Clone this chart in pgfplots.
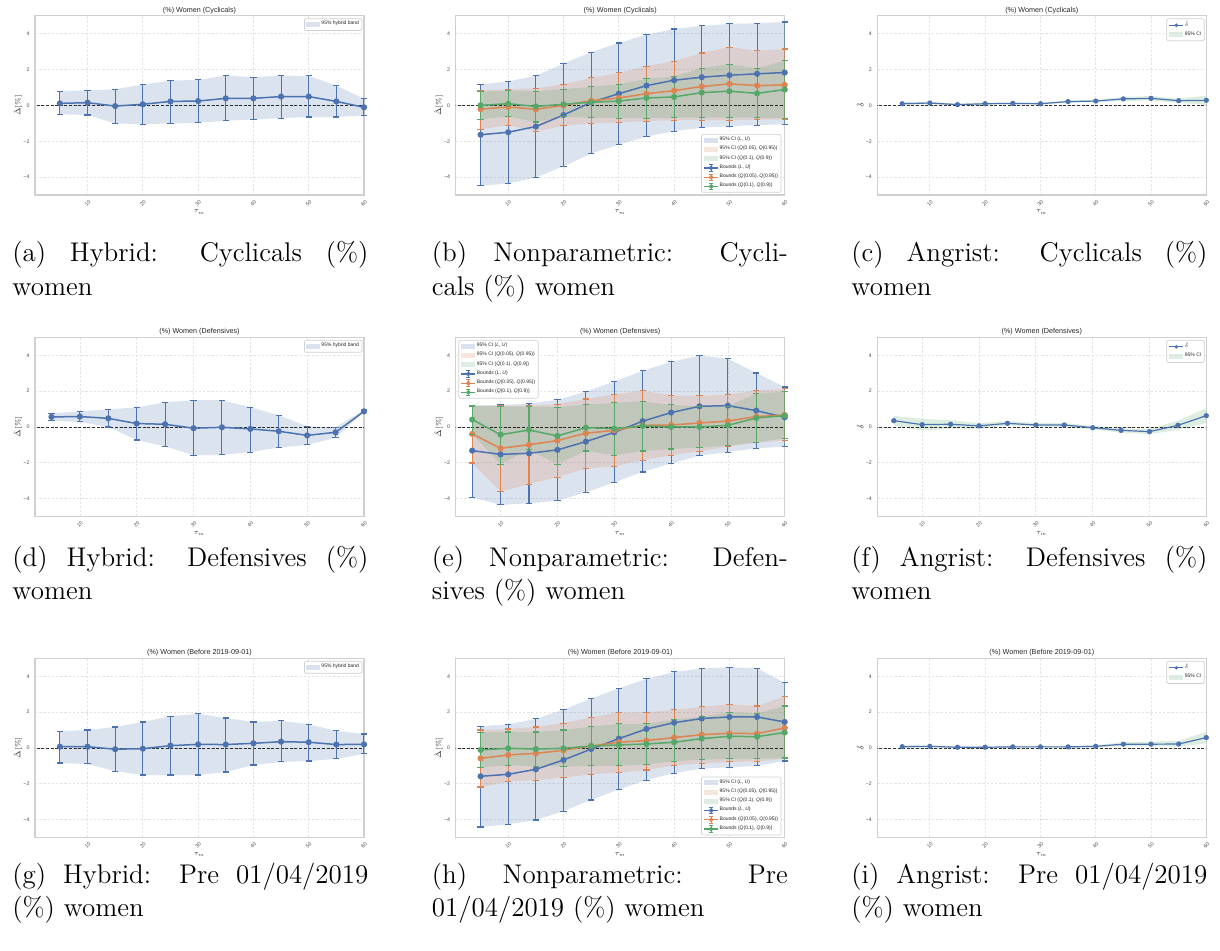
\RequirePackage{fix-cm}
\documentclass[border=0pt]{standalone}
\usepackage{fontspec}
\usepackage{pgfplots}
\usepackage{pgfplotstable}
\pgfplotsset{compat=1.18}
\usepgfplotslibrary{fillbetween}
\newfontfamily\axfont{Liberation Sans}

\definecolor{cblue}{HTML}{4C72B0}
\definecolor{corange}{HTML}{DD8452}
\definecolor{cgreen}{HTML}{55A868}
\definecolor{axgray}{HTML}{D0D0D0}
\definecolor{gridgray}{HTML}{E4E4E4}
\definecolor{txt}{HTML}{262626}
\definecolor{tickc}{HTML}{4D4D4D}

% ---------------- data: x, estimate, lower, upper ----------------
% Cyclicals
\pgfplotstableread{
x y lo hi
5 0.11 -0.50 0.79
10 0.15 -0.54 0.84
15 -0.04 -1.01 0.90
20 0.06 -1.05 1.16
25 0.22 -1.01 1.38
30 0.24 -0.97 1.42
35 0.39 -0.86 1.66
40 0.39 -0.79 1.57
45 0.49 -0.71 1.66
50 0.49 -0.65 1.64
55 0.22 -0.65 1.10
60 -0.11 -0.56 0.36
}\hybCyc
\pgfplotstableread{
x y lo hi
5 -1.64 -4.49 1.18
10 -1.50 -4.36 1.33
15 -1.18 -4.02 1.66
20 -0.54 -3.40 2.32
25 0.17 -2.69 2.97
30 0.65 -2.19 3.48
35 1.10 -1.74 3.94
40 1.40 -1.44 4.26
45 1.57 -1.25 4.43
50 1.68 -1.16 4.54
55 1.76 -1.10 4.58
60 1.83 -1.05 4.65
}\npCycLU
\pgfplotstableread{
x y lo hi
5 -0.21 -1.33 0.84
10 -0.09 -1.10 0.90
15 -0.22 -1.44 0.95
20 0.00 -1.14 1.18
25 0.26 -1.01 1.53
30 0.41 -0.95 1.81
35 0.65 -0.88 2.19
40 0.82 -0.82 2.47
45 1.05 -0.82 2.92
50 1.20 -0.82 3.25
55 1.10 -0.80 3.05
60 1.14 -0.80 3.14
}\npCycQa
\pgfplotstableread{
x y lo hi
5 0.00 -0.77 0.77
10 0.09 -0.62 0.82
15 -0.06 -0.93 0.79
20 0.06 -0.64 0.90
25 0.17 -0.69 1.03
30 0.24 -0.71 1.18
35 0.41 -0.71 1.48
40 0.47 -0.69 1.61
45 0.71 -0.69 2.07
50 0.79 -0.69 2.30
55 0.67 -0.69 2.07
60 0.88 -0.71 2.49
}\npCycQb
\pgfplotstableread{
x y lo hi
5 0.09 0.02 0.17
10 0.13 0.06 0.20
15 0.04 -0.01 0.10
20 0.09 0.04 0.15
25 0.11 0.06 0.16
30 0.09 0.04 0.15
35 0.21 0.15 0.27
40 0.24 0.17 0.31
45 0.36 0.25 0.47
50 0.39 0.26 0.52
55 0.26 0.14 0.38
60 0.28 0.02 0.54
}\angCyc
% Defensives
\pgfplotstableread{
x y lo hi
5 0.56 0.35 0.76
10 0.58 0.28 0.86
15 0.48 0.00 0.99
20 0.19 -0.73 1.08
25 0.15 -1.08 1.38
30 -0.07 -1.58 1.49
35 -0.02 -1.56 1.49
40 -0.11 -1.40 1.10
45 -0.24 -1.15 0.65
50 -0.47 -1.00 0.04
55 -0.30 -0.61 -0.02
60 0.87 0.84 0.95
}\hybDef
\pgfplotstableread{
x y lo hi
5 -1.32 -3.93 1.21
10 -1.53 -4.35 1.23
15 -1.47 -4.26 1.30
20 -1.28 -4.11 1.51
25 -0.82 -3.65 1.97
30 -0.30 -3.09 2.53
35 0.32 -2.51 3.13
40 0.80 -2.03 3.63
45 1.15 -1.60 3.98
50 1.19 -1.40 3.80
55 0.91 -1.19 3.01
60 0.54 -1.10 2.23
}\npDefLU
\pgfplotstableread{
x y lo hi
5 -0.39 -2.01 1.17
10 -1.19 -3.60 1.17
15 -0.99 -3.19 1.19
20 -0.76 -2.80 1.27
25 -0.35 -2.31 1.56
30 -0.19 -2.20 1.82
35 0.09 -1.85 2.01
40 0.11 -1.58 1.77
45 0.22 -1.36 1.75
50 0.33 -1.10 1.79
55 0.58 -0.89 2.05
60 0.67 -0.74 2.12
}\npDefQa
\pgfplotstableread{
x y lo hi
5 0.41 -0.40 1.17
10 -0.43 -2.07 1.15
15 -0.17 -1.27 1.15
20 -0.50 -2.07 1.10
25 -0.04 -1.34 1.25
30 -0.09 -1.57 1.34
35 0.06 -1.34 1.43
40 0.00 -1.23 1.23
45 0.00 -1.14 1.15
50 0.09 -1.04 1.15
55 0.50 -0.86 1.86
60 0.63 -0.63 1.97
}\npDefQb
\pgfplotstableread{
x y lo hi
5 0.35 0.08 0.62
10 0.13 -0.19 0.45
15 0.15 -0.10 0.38
20 0.06 -0.10 0.22
25 0.20 0.09 0.33
30 0.11 0.02 0.22
35 0.11 0.01 0.22
40 -0.04 -0.14 0.06
45 -0.19 -0.32 -0.08
50 -0.26 -0.40 -0.11
55 0.09 -0.17 0.35
60 0.63 0.22 1.05
}\angDef
% Before 2019-09-01
\pgfplotstableread{
x y lo hi
5 0.07 -0.84 0.93
10 0.07 -0.89 1.00
15 -0.07 -1.30 1.17
20 -0.04 -1.51 1.45
25 0.13 -1.51 1.77
30 0.20 -1.51 1.90
35 0.19 -1.34 1.67
40 0.26 -0.95 1.45
45 0.35 -0.78 1.51
50 0.32 -0.73 1.32
55 0.19 -0.61 0.95
60 0.20 -0.33 0.78
}\hybPre
\pgfplotstableread{
x y lo hi
5 -1.58 -4.41 1.21
10 -1.47 -4.26 1.32
15 -1.19 -4.02 1.62
20 -0.67 -3.52 2.14
25 -0.06 -2.90 2.75
30 0.52 -2.31 3.33
35 1.06 -1.79 3.85
40 1.41 -1.40 4.24
45 1.64 -1.15 4.43
50 1.73 -1.08 4.50
55 1.73 -1.00 4.45
60 1.45 -0.73 3.63
}\npPreLU
\pgfplotstableread{
x y lo hi
5 -0.58 -2.18 1.00
10 -0.39 -1.88 1.06
15 -0.30 -1.79 1.17
20 -0.13 -1.66 1.38
25 0.11 -1.47 1.71
30 0.32 -1.38 1.99
35 0.41 -1.23 1.99
40 0.58 -0.97 2.12
45 0.74 -0.86 2.29
50 0.82 -0.78 2.44
55 0.80 -0.76 2.34
60 1.12 -0.61 2.88
}\npPreQa
\pgfplotstableread{
x y lo hi
5 -0.11 -1.08 0.87
10 -0.02 -0.97 0.89
15 -0.06 -1.02 0.89
20 -0.02 -1.04 1.00
25 0.11 -1.00 1.19
30 0.17 -1.00 1.34
35 0.22 -0.91 1.34
40 0.32 -0.74 1.58
45 0.52 -0.65 1.75
50 0.65 -0.61 1.99
55 0.63 -0.61 1.92
60 0.86 -0.56 2.34
}\npPreQb
\pgfplotstableread{
x y lo hi
5 0.07 0.00 0.15
10 0.09 0.04 0.13
15 0.04 0.00 0.08
20 0.04 0.01 0.08
25 0.06 0.02 0.10
30 0.06 0.02 0.10
35 0.06 0.02 0.10
40 0.09 0.03 0.16
45 0.21 0.10 0.32
50 0.21 0.09 0.36
55 0.22 0.08 0.40
60 0.58 0.25 0.90
}\angPre

% ---------------- drawing helpers ----------------
% shaded band between the lo and hi columns
\newcommand{\band}[3]{%
  \addplot[draw=none, forget plot, name path=up#3] table[x=x,y=hi]{#1};
  \addplot[draw=none, forget plot, name path=dn#3] table[x=x,y=lo]{#1};
  \addplot[fill=#2, fill opacity=0.2, draw=none, forget plot] fill between[of=up#3 and dn#3];
}
% estimate with asymmetric error bars and capped ends
\newcommand{\ebars}[2]{%
  \addplot[#2, line width=0.55pt, only marks, mark=-, mark size=1.55pt,
    mark options={solid, line width=0.55pt}, forget plot] table[x=x,y=hi]{#1};
  \addplot[#2, line width=0.55pt, only marks, mark=-, mark size=1.55pt,
    mark options={solid, line width=0.55pt}, forget plot] table[x=x,y=lo]{#1};
  \addplot[#2, line width=0.75pt, mark=*, mark size=1.15pt, forget plot,
    error bars/.cd, y dir=both, y explicit, error mark=none,
    error bar style={#2, line width=0.55pt}]
    table[x=x, y=y, y error plus expr=\thisrow{hi}-\thisrow{y},
          y error minus expr=\thisrow{y}-\thisrow{lo}]{#1};
}
\newcommand{\angline}[1]{%
  \addplot[cblue, line width=0.6pt, mark=*, mark size=1pt, forget plot] table[x=x,y=y]{#1};
}
\newcommand{\zeroline}{%
  \addplot[black, opacity=0.8, line width=0.45pt, dash pattern=on 1.5pt off 0.8pt, forget plot]
    coordinates {(0,0) (61,0)};
}
% legend images
\newcommand{\patchleg}[1]{\addlegendimage{legend image code/.code={%
  \fill[#1, fill opacity=0.2, draw=none, sharp corners] (0pt,-1.25pt) rectangle (7pt,1.25pt);}}}
\newcommand{\ebleg}[1]{\addlegendimage{legend image code/.code={%
  \draw[#1, line width=0.6pt, sharp corners] (0pt,0pt) -- (7pt,0pt);
  \draw[#1, line width=0.45pt, sharp corners] (3.5pt,-1.6pt) -- (3.5pt,1.6pt)
     (2.5pt,1.6pt) -- (4.5pt,1.6pt) (2.5pt,-1.6pt) -- (4.5pt,-1.6pt);
  \fill[#1, fill opacity=1, draw=none] (3.5pt,0pt) circle (1pt);}}}
\newcommand{\lineleg}[1]{\addlegendimage{legend image code/.code={%
  \draw[#1, line width=0.55pt, sharp corners] (0pt,0pt) -- (7pt,0pt);
  \fill[#1, fill opacity=1, draw=none] (3.5pt,0pt) circle (0.95pt);}}}

% hybrid panel content
\newcommand{\hybrid}[2]{%
  \band{#1}{cblue}{h#2}
  \zeroline
  \ebars{#1}{cblue}
  \patchleg{cblue}\addlegendentry{95\% hybrid band}
}
% nonparametric panel content
\newcommand{\nonpar}[4]{%
  \band{#1}{cblue}{a#4}
  \band{#2}{corange}{b#4}
  \band{#3}{cgreen}{c#4}
  \zeroline
  \ebars{#1}{cblue}
  \ebars{#2}{corange}
  \ebars{#3}{cgreen}
  \patchleg{cblue}\addlegendentry{95\% CI (\textit{L}, \textit{U})}
  \patchleg{corange}\addlegendentry{95\% CI (\textit{Q}(0.05), \textit{Q}(0.95))}
  \patchleg{cgreen}\addlegendentry{95\% CI (\textit{Q}(0.1), \textit{Q}(0.9))}
  \ebleg{cblue}\addlegendentry{Bounds (\textit{L}, \textit{U})}
  \ebleg{corange}\addlegendentry{Bounds (\textit{Q}(0.05), \textit{Q}(0.95))}
  \ebleg{cgreen}\addlegendentry{Bounds (\textit{Q}(0.1), \textit{Q}(0.9))}
}
% Angrist panel content
\newcommand{\angrist}[2]{%
  \band{#1}{cgreen}{g#2}
  \zeroline
  \angline{#1}
  \lineleg{cblue}\addlegendentry{$\hat{\delta}$}
  \patchleg{cgreen}\addlegendentry{95\% CI}
}

\pgfplotsset{
  panel/.style={
    scale only axis, width=164.5pt, height=89.65pt, anchor=north west,
    ymin=-5, ymax=5, xmax=60,
    xtick={10,20,30,40,50,60}, xticklabels={10,20,30,40,50,60},
    ytick={-4,-2,0,2,4}, yticklabels={−4,−2,0,2,4},
    grid=major,
    major grid style={gridgray, dash pattern=on 1.2pt off 0.9pt, line width=0.35pt},
    axis line style={axgray, line width=0.65pt},
    major tick length=0pt, tick style={draw=none},
    ticklabel style={font=\axfont\fontsize{2.6}{3}\selectfont, text=tickc},
    yticklabel style={inner sep=0pt, xshift=-2.6pt},
    xticklabel style={inner sep=0pt, anchor=center, yshift=-4pt, rotate=45},
    every axis title/.style={at={(0.5,1)}, anchor=south, yshift=0.9pt, inner sep=0pt,
      font=\axfont\fontsize{3.6}{4.2}\selectfont, text=txt},
    xlabel={$\tau_m$},
    every axis x label/.style={at={(axis description cs:0.5,-0.095)}, anchor=center,
      font=\fontsize{3.3}{3.8}\selectfont, text=txt},
    every axis y label/.style={at={(axis description cs:-0.052,0.5)}, anchor=center,
      rotate=90, font=\fontsize{3.5}{4}\selectfont, text=txt},
    legend cell align=left,
    legend style={font=\axfont\fontsize{2.5}{3}\selectfont, text=txt,
      draw=axgray, line width=0.35pt, rounded corners=0.7pt,
      fill=white, fill opacity=0.8, text opacity=1, draw opacity=1,
      inner xsep=1pt, inner ysep=0.8pt, row sep=0.3pt,
      nodes={inner sep=0.5pt}},
  },
  legNE/.style={legend style={at={(0.995,0.985)}, anchor=north east}},
  legSE/.style={legend style={at={(0.99,0.013)}, anchor=south east}},
  legNW/.style={legend style={at={(0.008,0.985)}, anchor=north west}},
}

\newcommand{\capfont}{\fontsize{13.5}{16.65}\selectfont}
% two-line justified sub-caption: left x, first baseline y, line 1, line 2
\newcommand{\subcap}[4]{%
  \node[anchor=base west, inner sep=0pt, font=\capfont] at (#1,#2) {\makebox[178pt][s]{#3}};
  \node[anchor=base west, inner sep=0pt, font=\capfont] at (#1,#2-16.65pt) {#4};
}

\begin{document}
\begin{tikzpicture}

% ---------- row 1: Cyclicals ----------
\begin{axis}[panel, legNE, at={(17.5pt,467.15pt)}, xmin=0.5,
  title={(\%) Women (Cyclicals)}, ylabel={$\hat{\Delta}[\%]$}]
  \hybrid{\hybCyc}{1}
\end{axis}
\begin{axis}[panel, legSE, at={(227.85pt,467.15pt)}, xmin=0.5,
  title={(\%) Women (Cyclicals)}, ylabel={$\hat{\Delta}[\%]$}]
  \nonpar{\npCycLU}{\npCycQa}{\npCycQb}{1}
\end{axis}
\begin{axis}[panel, legNE, at={(438.65pt,467.15pt)}, xmin=0.5,
  title={(\%) Women (Cyclicals)}, ylabel={$\hat{\delta}$}]
  \angrist{\angCyc}{1}
\end{axis}

% ---------- row 2: Defensives ----------
\begin{axis}[panel, legNE, at={(17.5pt,306.35pt)}, xmin=2.1,
  title={(\%) Women (Defensives)}, ylabel={$\hat{\Delta}[\%]$}]
  \hybrid{\hybDef}{2}
\end{axis}
\begin{axis}[panel, legNW, at={(227.85pt,306.35pt)}, xmin=2.1,
  title={(\%) Women (Defensives)}, ylabel={$\hat{\Delta}[\%]$}]
  \nonpar{\npDefLU}{\npDefQa}{\npDefQb}{2}
\end{axis}
\begin{axis}[panel, legNE, at={(438.65pt,306.35pt)}, xmin=2.1,
  title={(\%) Women (Defensives)}, ylabel={$\hat{\delta}$}]
  \angrist{\angDef}{2}
\end{axis}

% ---------- row 3: before 2019-09-01 ----------
\begin{axis}[panel, legNE, at={(17.5pt,145.85pt)}, xmin=0.5,
  title={(\%) Women (Before 2019-09-01)}, ylabel={$\hat{\Delta}[\%]$}]
  \hybrid{\hybPre}{3}
\end{axis}
\begin{axis}[panel, legSE, at={(227.85pt,145.85pt)}, xmin=0.5,
  title={(\%) Women (Before 2019-09-01)}, ylabel={$\hat{\Delta}[\%]$}]
  \nonpar{\npPreLU}{\npPreQa}{\npPreQb}{3}
\end{axis}
\begin{axis}[panel, legNE, at={(438.65pt,145.85pt)}, xmin=0.5,
  title={(\%) Women (Before 2019-09-01)}, ylabel={$\hat{\delta}$}]
  \angrist{\angPre}{3}
\end{axis}

% ---------- sub-captions ----------
\subcap{6pt}{344.15pt}{(a) Hybrid: Cyclicals (\%)}{women}
\subcap{215.75pt}{344.15pt}{(b) Nonparametric: Cycli-}{cals (\%) women}
\subcap{425.5pt}{344.15pt}{(c) Angrist: Cyclicals (\%)}{women}

\subcap{6pt}{192pt}{(d) Hybrid: Defensives (\%)}{women}
\subcap{215.75pt}{192pt}{(e) Nonparametric: Defen-}{sives (\%) women}
\subcap{425.5pt}{192pt}{(f) Angrist: Defensives (\%)}{women}

\subcap{6pt}{33.5pt}{(g) Hybrid: Pre 01/04/2019}{(\%) women}
\subcap{215.75pt}{33.5pt}{(h) Nonparametric: Pre}{01/04/2019 (\%) women}
\subcap{425.5pt}{33.5pt}{(i) Angrist: Pre 01/04/2019}{(\%) women}

% fixed page frame
\pgfresetboundingbox
\useasboundingbox (0pt,0pt) rectangle (610pt,475pt);
\end{tikzpicture}
\end{document}
